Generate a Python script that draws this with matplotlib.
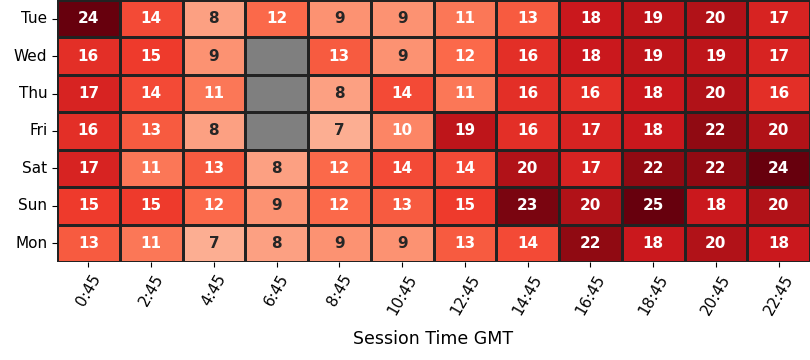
import numpy as np
import pandas as pd
import matplotlib
matplotlib.use("Agg")
import matplotlib.pyplot as plt
import seaborn as sns

days = ["Tue", "Wed", "Thu", "Fri", "Sat", "Sun", "Mon"]
times = ["0:45", "2:45", "4:45", "6:45", "8:45", "10:45", "12:45",
         "14:45", "16:45", "18:45", "20:45", "22:45"]
nan = np.nan
tue = [24, 14, 8, 12, 9, 9, 11, 13, 18, 19, 20, 17]
wed = [16, 15, 9, nan, 13, 9, 12, 16, 18, 19, 19, 17]
thu = [17, 14, 11, nan, 8, 14, 11, 16, 16, 18, 20, 16]
fri = [16, 13, 8, nan, 7, 10, 19, 16, 17, 18, 22, 20]
sat = [17, 11, 13, 8, 12, 14, 14, 20, 17, 22, 22, 24]
sun = [15, 15, 12, 9, 12, 13, 15, 23, 20, 25, 18, 20]
mon = [13, 11, 7, 8, 9, 9, 13, 14, 22, 18, 20, 18]

df = pd.DataFrame([tue, wed, thu, fri, sat, sun, mon], index=days, columns=times)

fig = plt.figure(figsize=(8.1, 3.6), dpi=100)
ax = fig.add_axes([57/810, 98/360, 753/810, 262/360])
ax.set_facecolor("#7f7f7f")
sns.heatmap(df, ax=ax, cmap="Reds", vmin=0, vmax=24, annot=True, fmt=".0f",
            cbar=False, linewidths=1.0, linecolor="#222222",
            annot_kws={"fontsize": 11, "fontweight": "bold"})
ax.set_xticklabels(times, rotation=60, fontsize=11)
ax.set_yticklabels(days, rotation=0, fontsize=11)
ax.set_xlabel("Session Time GMT", fontsize=12.5, labelpad=9)
ax.set_ylabel("")
fig.savefig("out.png", dpi=100)
